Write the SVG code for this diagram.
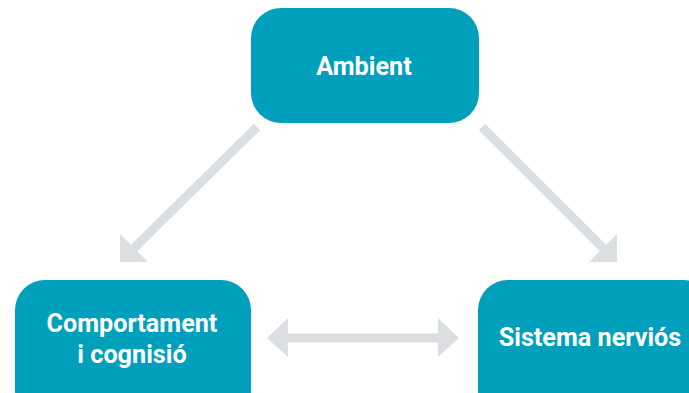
<svg xmlns="http://www.w3.org/2000/svg" width="689" height="393" viewBox="0 0 689 393">
<style>
.node{fill:#00a0bd}
.lbl{fill:#fff;font-family:Roboto,"Liberation Sans",sans-serif;font-weight:bold;font-size:25.2px;text-anchor:middle}
.ln{stroke:#dcdfe1;stroke-width:9;fill:none}
.hd{fill:#dcdfe1}
</style>
<rect width="689" height="393" fill="#fff"/>
<g id="connectors">
<line class="ln" x1="257" y1="127" x2="131" y2="251"/>
<polygon class="hd" points="120,234 120,262 148,262"/>
<line class="ln" x1="482" y1="127" x2="606" y2="251"/>
<polygon class="hd" points="617,234 617,262 589,262"/>
<line class="ln" x1="285" y1="338" x2="441" y2="338"/>
<polygon class="hd" points="267,338 288,318 288,357"/>
<polygon class="hd" points="459,338 438,318 438,357"/>
</g>
<g id="ambient">
<rect class="node" x="251" y="8" width="228" height="115" rx="30"/>
<text class="lbl" x="364" y="75">Ambient</text>
</g>
<g id="comportament">
<rect class="node" x="15" y="280" width="236" height="140" rx="30"/>
<text class="lbl" x="132" y="332">Comportament</text>
<text class="lbl" x="132" y="363">i cognisió</text>
</g>
<g id="sistema">
<rect class="node" x="478" y="280" width="236" height="140" rx="30"/>
<text class="lbl" x="590" y="346">Sistema nerviós</text>
</g>
</svg>
